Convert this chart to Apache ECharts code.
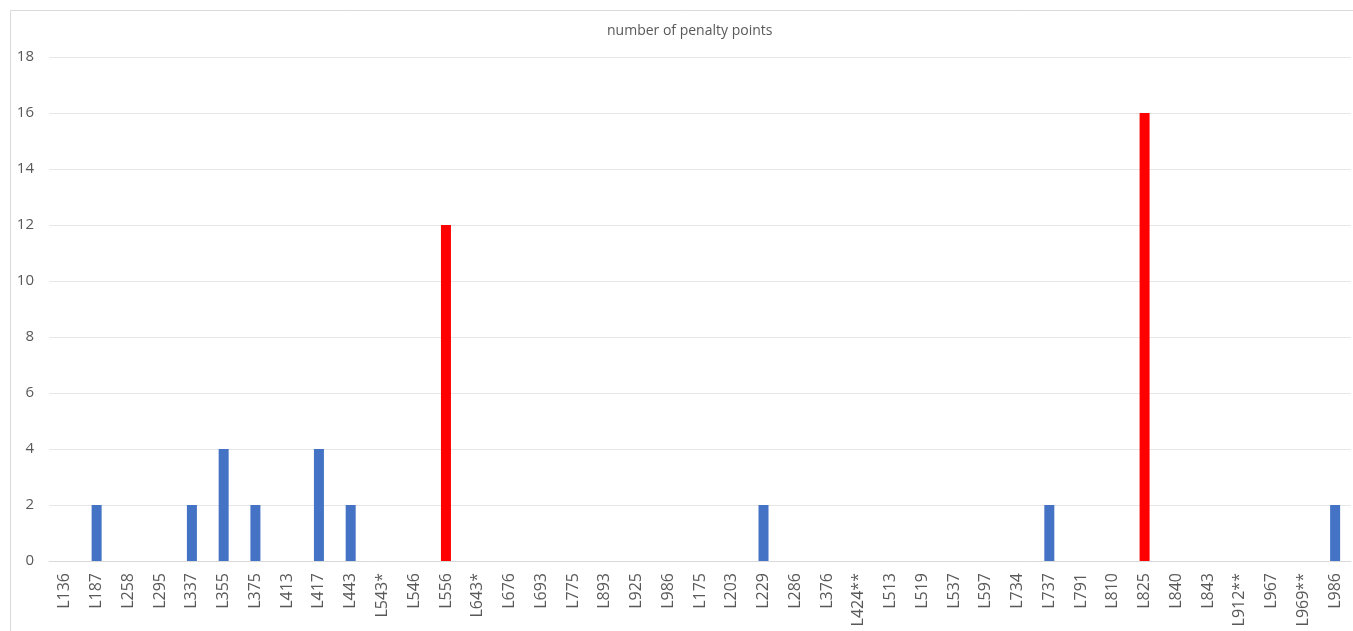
<!DOCTYPE html>
<html>
<head>
<meta charset="utf-8">
<script src="https://cdn.jsdelivr.net/npm/echarts@6/dist/echarts.min.js"></script>
<style>
  html, body { margin: 0; padding: 0; background: #fff; }
  #chart { width: 1353px; height: 631px; }
</style>
</head>
<body>
<div id="chart"></div>
<script>
// Line codes along the horizontal axis
const categories = [
  'L136', 'L187', 'L258', 'L295', 'L337', 'L355', 'L375', 'L413', 'L417', 'L443',
  'L543*', 'L546', 'L556', 'L643*', 'L676', 'L693', 'L775', 'L893', 'L925', 'L986',
  'L175', 'L203', 'L229', 'L286', 'L376', 'L424**', 'L513', 'L519', 'L537', 'L597',
  'L734', 'L737', 'L791', 'L810', 'L825', 'L840', 'L843', 'L912**', 'L967', 'L969**',
  'L986'
];

// Penalty points per line
const penaltyPoints = [
  0, 2, 0, 0, 2, 4, 2, 0, 4, 2,
  0, 0, 12, 0, 0, 0, 0, 0, 0, 0,
  0, 0, 2, 0, 0, 0, 0, 0, 0, 0,
  0, 2, 0, 0, 16, 0, 0, 0, 0, 0,
  2
];

// Lines highlighted in red
const highlighted = ['L556', 'L825'];

const yTicks = { min: 0, max: 18, interval: 2 };

const BLUE = '#4472C4';
const RED = '#FF0000';
const TEXT = '#595959';
const FONT = '"Open Sans", "Noto Sans", sans-serif';

const seriesData = penaltyPoints.map((v, i) => ({
  value: v,
  itemStyle: { color: highlighted.includes(categories[i]) ? RED : BLUE }
}));

const chart = echarts.init(document.getElementById('chart'), null, { renderer: 'canvas' });
chart.setOption({
  animation: false,
  backgroundColor: '#fff',
  title: {
    text: 'number of penalty points',
    left: 602,
    top: 19,
    textStyle: { color: TEXT, fontSize: 14, fontWeight: 'normal', fontFamily: FONT }
  },
  graphic: [{
    type: 'rect',
    shape: { x: 10.5, y: 10.5, width: 1360, height: 640 },
    style: { fill: 'none', stroke: '#d9d9d9', lineWidth: 1 },
    silent: true
  }],
  grid: { left: 49, right: 2, top: 57, bottom: 70 },
  xAxis: {
    type: 'category',
    data: categories,
    axisLine: { show: true, lineStyle: { color: '#d9d9d9' } },
    axisTick: { show: false },
    axisLabel: {
      interval: 0,
      rotate: 90,
      margin: 12,
      color: TEXT,
      fontSize: 16,
      fontFamily: FONT
    }
  },
  yAxis: {
    type: 'value',
    min: yTicks.min,
    max: yTicks.max,
    interval: yTicks.interval,
    axisLine: { show: false },
    axisTick: { show: false },
    splitLine: { lineStyle: { color: '#e6e6e6' } },
    axisLabel: { color: TEXT, fontSize: 15, fontFamily: FONT, margin: 15 }
  },
  series: [{
    type: 'bar',
    data: seriesData,
    barWidth: 10
  }]
});
</script>
</body>
</html>
